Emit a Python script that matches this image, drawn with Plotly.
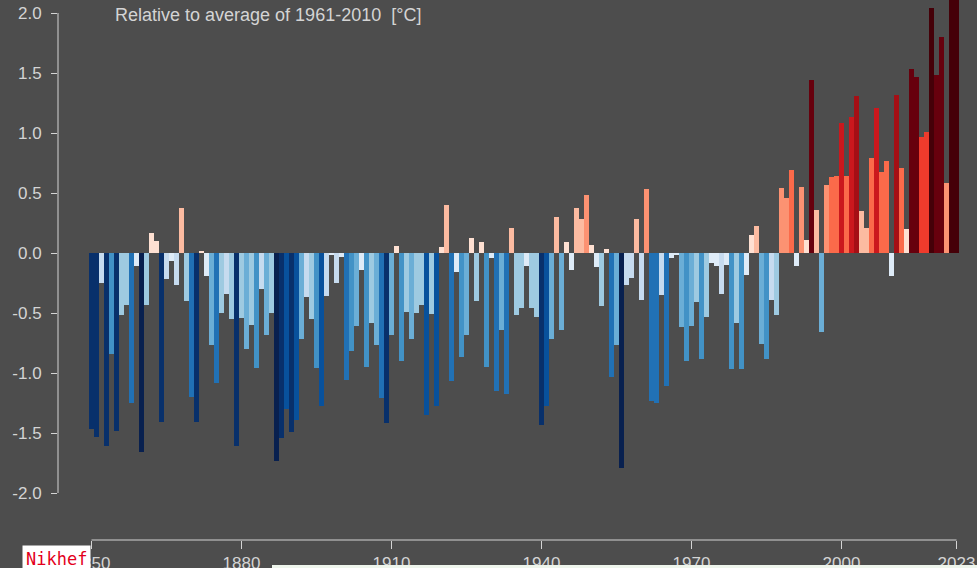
import plotly.graph_objects as go

years = list(range(1850, 2024))
anomaly = [
    -1.47, -1.53, -0.25, -1.61, -0.84, -1.48, -0.52, -0.43, -1.25, -0.11,  # 1850s
    -1.66, -0.43, 0.17, 0.10, -1.41, -0.22, -0.07, -0.27, 0.375, -0.40,    # 1860s
    -1.20, -1.41, 0.02, -0.19, -0.77, -1.08, -0.50, -0.34, -0.55, -1.61,   # 1870s
    -0.54, -0.80, -0.60, -0.96, -0.30, -0.68, -0.50, -1.73, -1.54, -1.30,  # 1880s
    -1.49, -1.39, -0.72, -0.37, -0.55, -0.96, -1.275, -0.36, -0.01, -0.25, # 1890s
    -0.03, -1.06, -0.82, -0.61, -0.14, -0.95, -0.58, -0.77, -1.21, -1.42,  # 1900s
    -0.68, 0.06, -0.90, -0.49, -0.72, -0.50, -0.43, -1.35, -0.51, -1.275,  # 1910s
    0.05, 0.40, -1.07, -0.16, -0.87, -0.68, 0.125, -0.40, 0.095, -0.95,    # 1920s
    -0.045, -1.15, -0.64, -1.175, 0.21, -0.52, -0.46, -0.11, -0.46, -0.53, # 1930s
    -1.43, -1.275, -0.72, 0.30, -0.64, 0.095, -0.14, 0.375, 0.28, 0.485,   # 1940s
    0.07, -0.12, -0.44, 0.03, -1.03, -0.77, -1.79, -0.27, -0.21, 0.28,     # 1950s
    -0.39, 0.53, -1.23, -1.25, -0.35, -1.105, -0.04, -0.01, -0.62, -0.90,  # 1960s
    -0.61, -0.41, -0.88, -0.53, -0.08, -0.11, -0.34, -0.10, -0.97, -0.58,  # 1970s
    -0.97, -0.18, 0.15, 0.225, -0.76, -0.88, -0.39, -0.52, 0.545, 0.46,    # 1980s
    0.69, -0.11, 0.55, 0.11, 1.44, 0.355, -0.66, 0.565, 0.63, 0.645,       # 1990s
    1.08, 0.645, 1.13, 1.31, 0.35, 0.205, 0.79, 1.21, 0.675, 0.77,         # 2000s
    -0.195, 1.32, 0.705, 0.20, 1.53, 1.47, 0.965, 1.01, 2.04, 1.48,        # 2010s
    1.80, 0.58, 2.30, 2.60,                                                # 2020s
]

x_tick_vals = [1850, 1880, 1910, 1940, 1970, 2000, 2023]
y_tick_vals = [-2.0, -1.5, -1.0, -0.5, 0.0, 0.5, 1.0, 1.5, 2.0]
y_tick_text = ["-2.0", "-1.5", "-1.0", "-0.5", "0.0", "0.5", "1.0", "1.5", "2.0"]
title_text = "Relative to average of 1961-2010\u00a0\u00a0[°C]"

# stepped stripes palette (bin edges in °C and colour for each bin)
bin_edges = [-2.0, -1.65, -1.40, -1.25, -1.0, -0.8, -0.6, -0.4, -0.2, 0.0,
             0.2, 0.45, 0.6, 0.9, 1.05, 1.25, 1.4, 1.9, 2.7]
bin_colors = ["#08204f", "#08306b", "#08519c", "#2171b5", "#4292c6", "#6baed6",
              "#9ecae1", "#c6dbef", "#deebf7", "#fee0d2", "#fcbba1", "#fc9272",
              "#fb6a4a", "#ef3b2c", "#cb181d", "#a50f15", "#67000d", "#450008"]
cmin, cmax = bin_edges[0], bin_edges[-1]
colorscale = []
for i, c in enumerate(bin_colors):
    a = (bin_edges[i] - cmin) / (cmax - cmin)
    b = (bin_edges[i + 1] - cmin) / (cmax - cmin)
    colorscale.append([a, c])
    colorscale.append([b, c])

BG = "#4d4d4d"
TXT = "#d4d4d4"
FONT = "Liberation Sans, Arial, sans-serif"

fig = go.Figure()
fig.add_trace(go.Bar(
    x=years, y=anomaly, width=1.0,
    marker=dict(color=anomaly, colorscale=colorscale, cmin=cmin, cmax=cmax,
                line=dict(width=0)),
    hoverinfo="x+y", showlegend=False,
))

W, H = 977, 568
L, R, T, B = 58, 0, 0, 28
plot_w = W - L - R
plot_h = H - T - B
px_per_year = 5.0
x0 = 1850 - (91.5 - L) / px_per_year
x1 = x0 + plot_w / px_per_year
px_per_unit = 120.0
zero_y = 253
y1 = (zero_y - T) / px_per_unit
y0 = y1 - plot_h / px_per_unit

fig.update_layout(
    width=W, height=H,
    margin=dict(l=L, r=R, t=T, b=B, autoexpand=False),
    paper_bgcolor=BG, plot_bgcolor=BG,
    bargap=0,
    font=dict(family=FONT, color=TXT, size=17),
    xaxis=dict(range=[x0, x1], showgrid=False, zeroline=False, showline=False,
               tickmode="array", tickvals=x_tick_vals,
               ticktext=[str(v) for v in x_tick_vals],
               ticks="outside", ticklen=8, tickwidth=1, tickcolor=TXT,
               ticklabelstandoff=0,
               tickfont=dict(size=17, color=TXT, family=FONT)),
    yaxis=dict(range=[y0, y1], showgrid=False, zeroline=False, showline=False,
               tickmode="array", tickvals=y_tick_vals, ticktext=y_tick_text,
               ticks="outside", ticklen=6, tickwidth=1, tickcolor=TXT,
               ticklabelstandoff=6,
               tickfont=dict(size=17, color=TXT, family=FONT)),
    shapes=[
        dict(type="line", xref="paper", yref="y", x0=0, x1=0,
             y0=min(y_tick_vals), y1=max(y_tick_vals),
             line=dict(color=TXT, width=1)),
        dict(type="line", xref="x", yref="paper", x0=min(x_tick_vals),
             x1=max(x_tick_vals), y0=0, y1=0,
             line=dict(color=TXT, width=1)),
        dict(type="rect", xref="paper", yref="paper",
             x0=(272 - L) / plot_w, x1=1.0,
             y0=-(H - T - plot_h) / plot_h - 0.01, y1=-(565 - plot_h - T) / plot_h,
             fillcolor="#eef5ec", line=dict(width=0), layer="above"),
    ],
    annotations=[
        dict(text=title_text, xref="paper", yref="paper",
             x=(113 - L) / plot_w, y=1 - 15 / plot_h,
             xanchor="left", yanchor="middle", showarrow=False,
             font=dict(size=18, color=TXT, family=FONT)),
        dict(text="Nikhef", xref="paper", yref="paper",
             x=(22 - L) / plot_w, y=-(545 - plot_h - T) / plot_h,
             xanchor="left", yanchor="top", showarrow=False,
             bgcolor="#ffffff", borderpad=3,
             font=dict(size=17, color="#e3001b", family="DejaVu Sans Mono, monospace")),
    ],
)

fig.write_html(
    "out.html",
    config={"displayModeBar": False},
    post_script="document.body.style.margin='0';document.body.style.overflow='hidden';",
)
